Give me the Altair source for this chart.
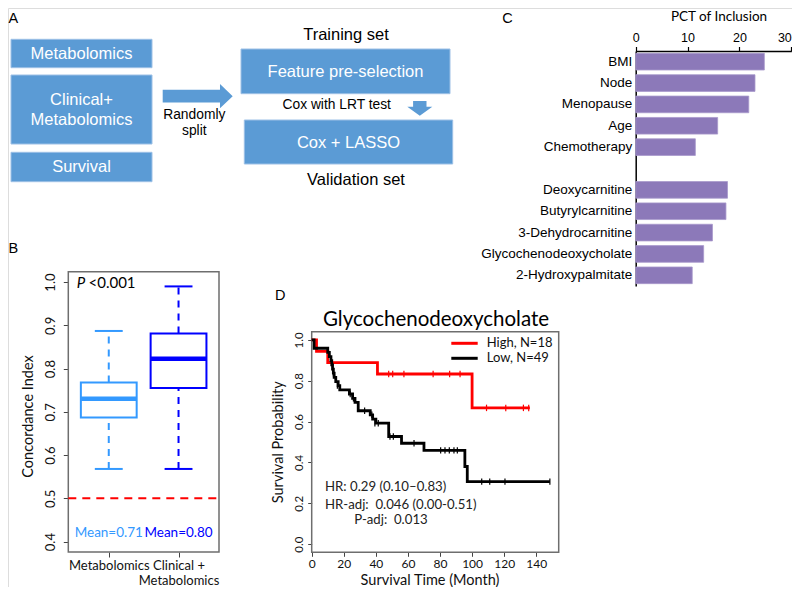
import altair as alt
import pandas as pd

# ---------------- data ----------------
# Panel B: concordance index box summaries
b_groups = ["Metabolomics", "Clinical + Metabolomics"]
b_tick_labels = [["Metabolomics"], ["Clinical +", "Metabolomics"]]
b_pos = [1, 2]
b_lower = [0.568, 0.568]
b_q1 = [0.687, 0.755]
b_median = [0.730, 0.823]
b_q3 = [0.768, 0.881]
b_upper = [0.887, 0.990]
b_means = [0.71, 0.80]
b_ref_line = 0.5
B_XLIM = [0.42, 2.58]
B_YLIM = [0.376, 1.024]

# Panel C: percentage of inclusion
c_features = ["BMI", "Node", "Menopause", "Age", "Chemotherapy",
              "Deoxycarnitine", "Butyrylcarnitine", "3-Dehydrocarnitine",
              "Glycochenodeoxycholate", "2-Hydroxypalmitate"]
c_pct = [24.8, 23.0, 21.8, 15.8, 11.5, 17.7, 17.4, 14.8, 13.1, 10.9]
c_order = c_features[:5] + [" "] + c_features[5:]

# Panel D: Kaplan-Meier curves
d_groups = ["High, N=18", "Low, N=49"]
high_t = [0, 3, 10, 41, 100, 136]
high_s = [1.0, 0.944, 0.889, 0.833, 0.667, 0.667]
high_cens_t = [48, 50.5, 57.5, 75.7, 86, 92.5, 109, 121, 132, 135.3]
high_cens_s = [0.833] * 6 + [0.667] * 4
low_t = [0, 1.5, 10, 11, 12, 12.5, 13, 13.5, 14, 15, 16.5, 17.5, 23.5, 25.5, 27,
         29, 36.5, 38, 40, 48, 56, 70, 95.5, 97, 148.5]
low_s = [1.0, 0.959, 0.939, 0.918, 0.898, 0.878, 0.857, 0.837, 0.816, 0.796, 0.776,
         0.755, 0.735, 0.714, 0.694, 0.653, 0.633, 0.612, 0.592, 0.527, 0.494,
         0.459, 0.380, 0.306, 0.306]
low_cens_t = [13.5, 16, 24, 26, 33, 37.5, 39.4, 41.5, 48.8, 50.9, 63.8,
              80.4, 83.1, 85.8, 88.7, 90.8, 106, 111, 120.5, 148.5]
low_cens_s = [0.837, 0.776, 0.735, 0.714, 0.653, 0.633, 0.592, 0.592, 0.527, 0.527,
              0.494, 0.459, 0.459, 0.459, 0.459, 0.459, 0.306, 0.306, 0.306, 0.306]
D_XLIM = [0, 154]
D_YLIM = [-0.04, 1.04]

# ---------------- layout / style ----------------
BLUE = "#5B9BD5"
PURPLE = "#8C79B9"
B_COLORS = ["#3399FF", "#0000FF"]
D_COLORS = ["#FF0000", "#000000"]
SANS = "Liberation Sans"
MY = "Lato"
W, H = 784, 579
M = 8  # page margin: chart px = reference px - 8
NB = "\u00a0"

FX = alt.Scale(domain=[0, 800], range=[-M, 800 - M], nice=False, zero=False)
FY = alt.Scale(domain=[0, 595], range=[-M, 595 - M], nice=False, zero=False)


def fx(f="x"):
    return alt.X(f"{f}:Q", scale=FX, axis=None)


def fy(f="y"):
    return alt.Y(f"{f}:Q", scale=FY, axis=None)


def fig_text(rows, font, size, color="black", align="center", baseline="middle", italic=False):
    df = pd.DataFrame(rows, columns=["t", "x", "y"])
    kw = dict(font=font, fontSize=size, color=color, align=align, baseline=baseline)
    if italic:
        kw["fontStyle"] = "italic"
    return alt.Chart(df).mark_text(**kw).encode(x=fx(), y=fy(), text="t:N")


layers = []

# ---------------- Panel A: workflow diagram ----------------
a_boxes = pd.DataFrame({
    "x": [11, 11, 11, 241, 244.3], "x2": [152, 152, 152, 450, 452.7],
    "y": [39.3, 75, 152.3, 49, 120], "y2": [67.7, 144, 181.7, 93.7, 164]})
layers.append(alt.Chart(a_boxes).mark_rect(fill=BLUE, stroke="#9DC0E6", strokeWidth=1).encode(
    x=fx(), x2="x2:Q", y=fy(), y2="y2:Q"))
a_arrows = pd.DataFrame({
    "x": [197.7, 419.8], "y": [96.2, 108.35], "size": [4900, 625],
    "shape": ["M-1,-0.181L0.637,-0.181L0.637,-0.347L1,0L0.637,0.347L0.637,0.181L-1,0.181Z",
              "M-0.536,-0.588L0.536,-0.588L0.536,-0.132L1,-0.132L0,0.588L-1,-0.132L-0.536,-0.132Z"]})
layers.append(alt.Chart(a_arrows).mark_point(filled=True, fill=BLUE, opacity=1, strokeWidth=0).encode(
    x=fx(), y=fy(), size=alt.Size("size:Q", scale=None), shape=alt.Shape("shape:N", scale=None)))
layers.append(fig_text([("Metabolomics", 81.5, 53.5), ("Clinical+", 81.5, 100),
                        ("Metabolomics", 81.5, 120), ("Survival", 81.5, 167),
                        ("Feature pre-selection", 345.5, 72), ("Cox + LASSO", 348.5, 143)],
                       SANS, 16.5, "white"))
layers.append(fig_text([("Training set", 346, 35), ("Validation set", 356, 180)], SANS, 16.5))
layers.append(fig_text([("Cox with LRT test", 336.7, 105.3), ("Randomly", 194.3, 115),
                        ("split", 194.3, 130.7)], SANS, 13.8))
# panel letters
layers.append(fig_text([("A", 8.5, 22.5), ("B", 8.5, 253), ("C", 502.3, 22.5), ("D", 275, 300)],
                       SANS, 14.5, align="left", baseline="alphabetic"))

# ---------------- Panel B: box plots ----------------
b_df = pd.DataFrame({"group": b_groups, "pos": b_pos, "lower": b_lower, "q1": b_q1,
                     "median": b_median, "q3": b_q3, "upper": b_upper, "mean": b_means})
BX = alt.Scale(domain=B_XLIM, range=[68.3 - M, 219 - M], nice=False, zero=False)
BY = alt.Scale(domain=B_YLIM, range=[552 - M, 271.7 - M], nice=False, zero=False)
BC = alt.Scale(domain=b_groups, range=B_COLORS)
label_expr = "datum.value == 1 ? %s : %s" % (
    "'%s'" % b_tick_labels[0][0], "[" + ",".join("'%s'" % s for s in b_tick_labels[1]) + "]")

b_frame = pd.DataFrame({"x0": [B_XLIM[0]], "x1": [B_XLIM[1]], "y0": [B_YLIM[0]], "y1": [B_YLIM[1]]})
layers.append(alt.Chart(b_frame).mark_rect(fill="white", fillOpacity=0, stroke="#6E6E6E", strokeWidth=1.5).encode(
    x=alt.X("x0:Q", scale=BX, axis=alt.Axis(
        orient="bottom", offset=(552 - M) - H, values=b_pos, labelExpr=label_expr, tickSize=5,
        domain=False, grid=False, labelFont=MY, labelFontSize=13, labelPadding=2,
        labelLineHeight=15, labelBaseline="top", labelFlush=False, labelOverlap=False,
        labelBound=False, title=None, tickColor="#444", labelColor="#111")),
    x2="x1:Q",
    y=alt.Y("y0:Q", scale=BY, axis=alt.Axis(
        orient="left", offset=-(68.3 - M), values=[0.4, 0.5, 0.6, 0.7, 0.8, 0.9, 1.0], format=".1f",
        tickSize=5, domain=False, grid=False, labelAngle=270, labelAlign="center",
        labelBaseline="bottom", labelPadding=6, labelFont=MY, labelFontSize=13,
        labelColor="#111", tickColor="#444",
        title="Concordance Index", titleAngle=270, titleX=28 - 68.3, titleY=408,
        titleBaseline="middle", titleAlign="center", titleFont=MY, titleFontSize=14.5,
        titleFontWeight="normal", titleColor="#111")),
    y2="y1:Q"))
b_ref = pd.DataFrame({"x0": [B_XLIM[0]], "x1": [B_XLIM[1]], "y": [b_ref_line]})
layers.append(alt.Chart(b_ref).mark_rule(color="#FF0000", strokeWidth=2, strokeDash=[8, 6]).encode(
    x=alt.X("x0:Q", scale=BX, axis=None), x2="x1:Q", y=alt.Y("y:Q", scale=BY, axis=None)))
bbase = alt.Chart(b_df).transform_calculate(
    xl="datum.pos - 0.4", xr="datum.pos + 0.4", cl="datum.pos - 0.2", cr="datum.pos + 0.2",
    mlabel="'Mean=' + format(datum.mean, '.2f')")
bstroke = alt.Stroke("group:N", scale=BC, legend=None)
for lo, hi in (("q3", "upper"), ("lower", "q1")):
    layers.append(bbase.mark_rule(strokeWidth=2, strokeDash=[7, 6]).encode(
        x=alt.X("pos:Q", scale=BX, axis=None), y=alt.Y(f"{lo}:Q", scale=BY, axis=None),
        y2=f"{hi}:Q", stroke=bstroke))
for f in ("upper", "lower"):
    layers.append(bbase.mark_rule(strokeWidth=2).encode(
        x=alt.X("cl:Q", scale=BX, axis=None), x2="cr:Q",
        y=alt.Y(f"{f}:Q", scale=BY, axis=None), stroke=bstroke))
layers.append(bbase.mark_rect(fill="white", strokeWidth=2).encode(
    x=alt.X("xl:Q", scale=BX, axis=None), x2="xr:Q",
    y=alt.Y("q1:Q", scale=BY, axis=None), y2="q3:Q", stroke=bstroke))
layers.append(bbase.mark_rule(strokeWidth=4.5).encode(
    x=alt.X("xl:Q", scale=BX, axis=None), x2="xr:Q",
    y=alt.Y("median:Q", scale=BY, axis=None), stroke=bstroke))
layers.append(bbase.transform_calculate(ly="0.419").mark_text(font=MY, fontSize=13.5, baseline="middle").encode(
    x=alt.X("pos:Q", scale=BX, axis=None), y=alt.Y("ly:Q", scale=BY, axis=None),
    text="mlabel:N", color=alt.Color("group:N", scale=BC, legend=None)))
layers.append(fig_text([("P", 76.7, 283.3)], MY, 15, align="left", italic=True))
layers.append(fig_text([("<0.001", 88.5, 283.3)], MY, 15, align="left"))

# ---------------- Panel C: horizontal bars ----------------
c_df = pd.DataFrame({"feature": c_features, "pct": c_pct})
CX = alt.Scale(domain=[0, 30], range=[635.7 - M, 791.3 - M], nice=False, zero=False)
CY = alt.Scale(domain=c_order, range=[51 - M, 286 - M], paddingInner=0.22, paddingOuter=0.11)
layers.append(alt.Chart(c_df).mark_bar(color=PURPLE, stroke="#A899CC", strokeWidth=0.8).encode(
    x=alt.X("pct:Q", scale=CX, axis=alt.Axis(
        orient="top", offset=-(51 - M), values=[0, 10, 20, 30], tickSize=4.5, labelPadding=2,
        domainColor="black", tickColor="black", labelColor="black", domainWidth=1.5, tickWidth=1.2,
        labelFont=SANS, labelFontSize=12.5, grid=False, labelFlush=False,
        labelAlign=alt.condition("datum.value >= 30", alt.value("right"), alt.value("center")),
        title="PCT of Inclusion", titleFont=MY, titleFontSize=13.5, titleFontWeight="normal",
        titleColor="black", titleX=718.5 - M, titleY=16.5 - 51, titleBaseline="middle",
        titleAlign="center")),
    y=alt.Y("feature:N", scale=CY, axis=alt.Axis(
        orient="left", offset=-(635.7 - M), ticks=False, domainColor="black", domainWidth=1.5,
        labelFont=SANS, labelFontSize=13.5, labelColor="black", labelPadding=4,
        labelLimit=300, title=None, grid=False))))

# ---------------- Panel D: Kaplan-Meier ----------------
km = pd.DataFrame({"group": [d_groups[0]] * len(high_t) + [d_groups[1]] * len(low_t),
                   "t": high_t + low_t, "s": high_s + low_s})
cens = pd.DataFrame({"group": [d_groups[0]] * len(high_cens_t) + [d_groups[1]] * len(low_cens_t),
                     "t": high_cens_t + low_cens_t, "s": high_cens_s + low_cens_s})
DX = alt.Scale(domain=D_XLIM, range=[311.7 - M, 558.7 - M], nice=False, zero=False)
DY = alt.Scale(domain=D_YLIM, range=[552.3 - M, 331.7 - M], nice=False, zero=False)
DC = alt.Scale(domain=d_groups, range=D_COLORS)
d_frame = pd.DataFrame({"x0": [D_XLIM[0]], "x1": [D_XLIM[1]], "y0": [D_YLIM[0]], "y1": [D_YLIM[1]]})
layers.append(alt.Chart(d_frame).mark_rect(fill="white", fillOpacity=0, stroke="#6E6E6E", strokeWidth=1.5).encode(
    x=alt.X("x0:Q", scale=DX, axis=alt.Axis(
        orient="bottom", offset=(552.3 - M) - H, values=list(range(0, 141, 20)), tickSize=4,
        domain=False, grid=False, labelFont=MY, labelFontSize=12, labelPadding=2,
        labelFlush=False, labelColor="#111", tickColor="#444",
        title="Survival Time (Month)", titleFont=MY, titleFontSize=14.5, titleFontWeight="normal",
        titleColor="#111", titleX=429.5 - M, titleY=580.5 - 552.3, titleBaseline="middle",
        titleAlign="center")),
    x2="x1:Q",
    y=alt.Y("y0:Q", scale=DY, axis=alt.Axis(
        orient="left", offset=-(311.7 - M), values=[0, 0.2, 0.4, 0.6, 0.8, 1.0], format=".1f",
        tickSize=4, domain=False, grid=False, labelAngle=270, labelAlign="center",
        labelBaseline="bottom", labelPadding=3, labelFont=MY, labelFontSize=11.5,
        labelColor="#111", tickColor="#444",
        title="Survival Probability", titleAngle=270, titleX=278.3 - 311.7, titleY=441.7 - M,
        titleBaseline="middle", titleAlign="center", titleFont=MY, titleFontSize=14.5,
        titleFontWeight="normal", titleColor="#111")),
    y2="y1:Q"))
layers.append(alt.Chart(km).mark_line(interpolate="step-after", strokeWidth=2.8).encode(
    x=alt.X("t:Q", scale=DX, axis=None), y=alt.Y("s:Q", scale=DY, axis=None),
    color=alt.Color("group:N", scale=DC, legend=alt.Legend(
        orient="none", legendX=449, legendY=327.8, direction="vertical", title=None,
        symbolType="M-2.2,0H2.2", symbolSize=144, symbolStrokeWidth=3, labelFont=MY,
        labelFontSize=13, labelOffset=14.7, padding=0, rowPadding=0, labelColor="#111"))))
layers.append(alt.Chart(cens).mark_point(shape="M0,-1L0,1", size=42, strokeWidth=1.2, filled=False, opacity=1).encode(
    x=alt.X("t:Q", scale=DX, axis=None), y=alt.Y("s:Q", scale=DY, axis=None),
    color=alt.Color("group:N", scale=DC, legend=None)))
layers.append(fig_text([("Glycochenodeoxycholate", 436, 319.5)], MY, 20.5))
layers.append(fig_text([("HR: 0.29 (0.10\u20130.83)", 325, 486.7),
                        ("HR-adj:" + NB + NB + "0.046 (0.00-0.51)", 325, 504.5),
                        ("P-adj:" + NB + NB + "0.013", 354.3, 519.8)], MY, 13.2, "#222", align="left"))

chart = alt.layer(*layers).resolve_scale(
    x="independent", y="independent", color="independent", stroke="independent",
    size="independent", shape="independent"
).resolve_axis(x="independent", y="independent").resolve_legend(color="independent").properties(
    width=W, height=H, autosize=alt.AutoSizeParams(type="none"), padding=0
).configure_view(stroke=None).configure(font=MY)

chart.save("out.html", embed_options={"renderer": "svg", "actions": False})
